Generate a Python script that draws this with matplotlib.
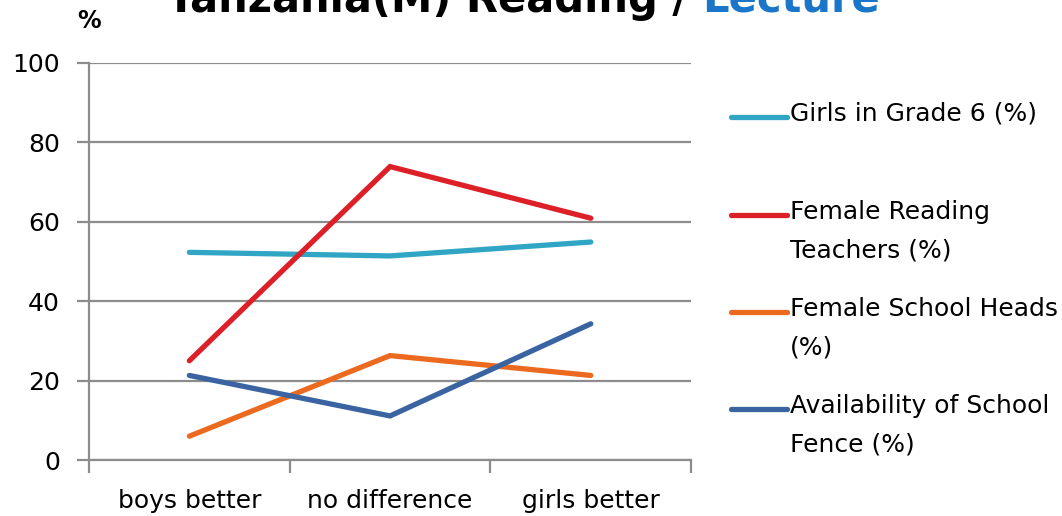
import matplotlib.pyplot as plt
from matplotlib.lines import Line2D

# categories and series (%)
categories = ["boys better", "no difference", "girls better"]
girls_grade6 = [52.3, 51.4, 54.9]
female_teachers = [25.0, 73.9, 60.9]
female_heads = [6.0, 26.3, 21.3]
school_fence = [21.3, 11.1, 34.3]

series_labels = ["Girls in Grade 6 (%)",
                 "Female Reading\nTeachers (%)",
                 "Female School Heads\n(%)",
                 "Availability of School\nFence (%)"]
colors = ["#30a5c4", "#dd1f28", "#eb6a1f", "#3a64a1"]

grid_col = "#8c8c8c"
fs = 18

fig = plt.figure(figsize=(10.62, 5.16), dpi=100)
ax = fig.add_axes([0.0838, 0.1085, 0.567, 0.7695])

x = list(range(len(categories)))
for vals, col in zip([girls_grade6, female_teachers, female_heads, school_fence], colors):
    ax.plot(x, vals, color=col, lw=3.8, solid_capstyle="round", solid_joinstyle="miter", zorder=3)

ax.set_xlim(-0.5, 2.5)
ax.set_ylim(0, 100)
ax.set_yticks(range(0, 101, 20))
ax.yaxis.grid(True, color=grid_col, lw=1.6)
ax.set_axisbelow(True)

ax.set_xticks(x)
ax.set_xticklabels(categories, fontsize=fs)
ax.set_xticks([-0.5, 0.5, 1.5, 2.5], minor=True)
ax.tick_params(axis="x", which="major", length=0, pad=21)
ax.tick_params(axis="x", which="minor", length=9, width=1.6, color=grid_col)
ax.tick_params(axis="y", length=9, width=1.6, color=grid_col, labelsize=fs, pad=12)

for s in ["top", "right"]:
    ax.spines[s].set_visible(False)
for s in ["left", "bottom"]:
    ax.spines[s].set_color(grid_col)
    ax.spines[s].set_linewidth(1.6)

# title, partly above the canvas
W, H = 1062, 516
t1 = fig.text(167 / W, 1 - 12 / H, "Tanzania(M) Reading / ", fontsize=30, fontweight="bold",
              color="black", ha="left", va="baseline")
fig.canvas.draw()
bb = t1.get_window_extent()
fig.text(bb.x1 / W, 1 - 12 / H, "Lecture", fontsize=30, fontweight="bold",
         color="#1a76c9", ha="left", va="baseline")

fig.text(89 / W, 1 - 21 / H, "%", fontsize=17, fontweight="bold", ha="center", va="center")

# legend drawn beside the plot
legend_y = [117, 215, 312, 409]
for lab, col, yy in zip(series_labels, colors, legend_y):
    fig.add_artist(Line2D([731 / W, 787 / W], [1 - yy / H, 1 - yy / H], color=col, lw=3.8,
                          solid_capstyle="round", transform=fig.transFigure))
    fig.text(790 / W, 1 - (yy - 15) / H, lab, fontsize=fs, ha="left", va="top",
             linespacing=1.78)

fig.savefig("out.png", dpi=100)
